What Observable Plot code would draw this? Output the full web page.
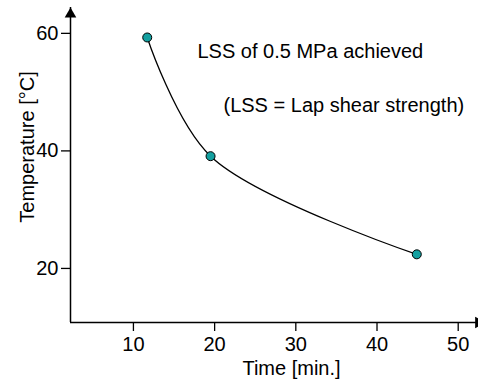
<!DOCTYPE html>
<html>
<head>
<meta charset="utf-8">
<script src="https://cdn.jsdelivr.net/npm/d3@7"></script>
<script src="https://cdn.jsdelivr.net/npm/@observablehq/plot@0.6"></script>
<style>
  html, body { margin: 0; padding: 0; background: white; }
</style>
</head>
<body>
<div id="chart"></div>
<script>
const time = [11.7, 19.5, 44.9];
const temperature = [59.3, 39.1, 22.4];
const xTicks = [10, 20, 30, 40, 50];
const yTicks = [20, 40, 60];
const notes = ["LSS of 0.5 MPa achieved", "(LSS = Lap shear strength)"];
const xLabel = "Time [min.]";
const yLabel = "Temperature [°C]";

const xDomain = [2.25, 52.5];
const yDomain = [10.8, 64.4];

const points = time.map((t, i) => ({time: t, temperature: temperature[i]}));
const font = "'Liberation Sans', Arial, Helvetica, sans-serif";

const chart = Plot.plot({
  width: 478,
  height: 382,
  marginLeft: 70,
  marginRight: 0,
  marginTop: 7,
  marginBottom: 60,
  style: {fontFamily: font, fontSize: "20px", color: "black", background: "white", overflow: "hidden"},
  x: {domain: xDomain},
  y: {domain: yDomain},
  marks: [
    Plot.axisX(xTicks, {tickSize: 9, tickPadding: 5, fontSize: 20, label: null, strokeWidth: 1.3}),
    Plot.axisY(yTicks, {tickSize: 9, tickPadding: 3, fontSize: 20, label: null, strokeWidth: 1.3}),
    Plot.ruleX([xDomain[0]], {stroke: "black", strokeWidth: 1.5}),
    Plot.ruleY([yDomain[0]], {stroke: "black", strokeWidth: 1.5}),
    Plot.dot([{x: xDomain[0], y: yDomain[1]}], {x: "x", y: "y", symbol: "triangle", r: 4.3, fill: "black", stroke: "none", dy: 6.7}),
    Plot.dot([{x: xDomain[1], y: yDomain[0]}], {x: "x", y: "y", symbol: "triangle", r: 4.3, fill: "black", stroke: "none", rotate: 90, dx: 0}),
    Plot.line(points, {x: "time", y: "temperature", curve: "catmull-rom", stroke: "black", strokeWidth: 1.3}),
    Plot.dot(points, {x: "time", y: "temperature", r: 4.5, fill: "#13a0a0", stroke: "black", strokeWidth: 1}),
    Plot.text([notes[0]], {frameAnchor: "top-left", textAnchor: "start", lineAnchor: "middle", dx: 127, dy: 44.5, fontSize: 20, fill: "black"}),
    Plot.text([notes[1]], {frameAnchor: "top-left", textAnchor: "start", lineAnchor: "middle", dx: 153, dy: 98.5, fontSize: 20, fill: "black"}),
    Plot.text([yLabel], {frameAnchor: "left", textAnchor: "middle", rotate: -90, lineAnchor: "middle", dx: -43, dy: -18, fontSize: 20, fill: "black"}),
    Plot.text([xLabel], {frameAnchor: "bottom", textAnchor: "middle", lineAnchor: "middle", dx: 17, dy: 46, fontSize: 20, fill: "black"})
  ]
});
document.getElementById("chart").appendChild(chart);
</script>
</body>
</html>
